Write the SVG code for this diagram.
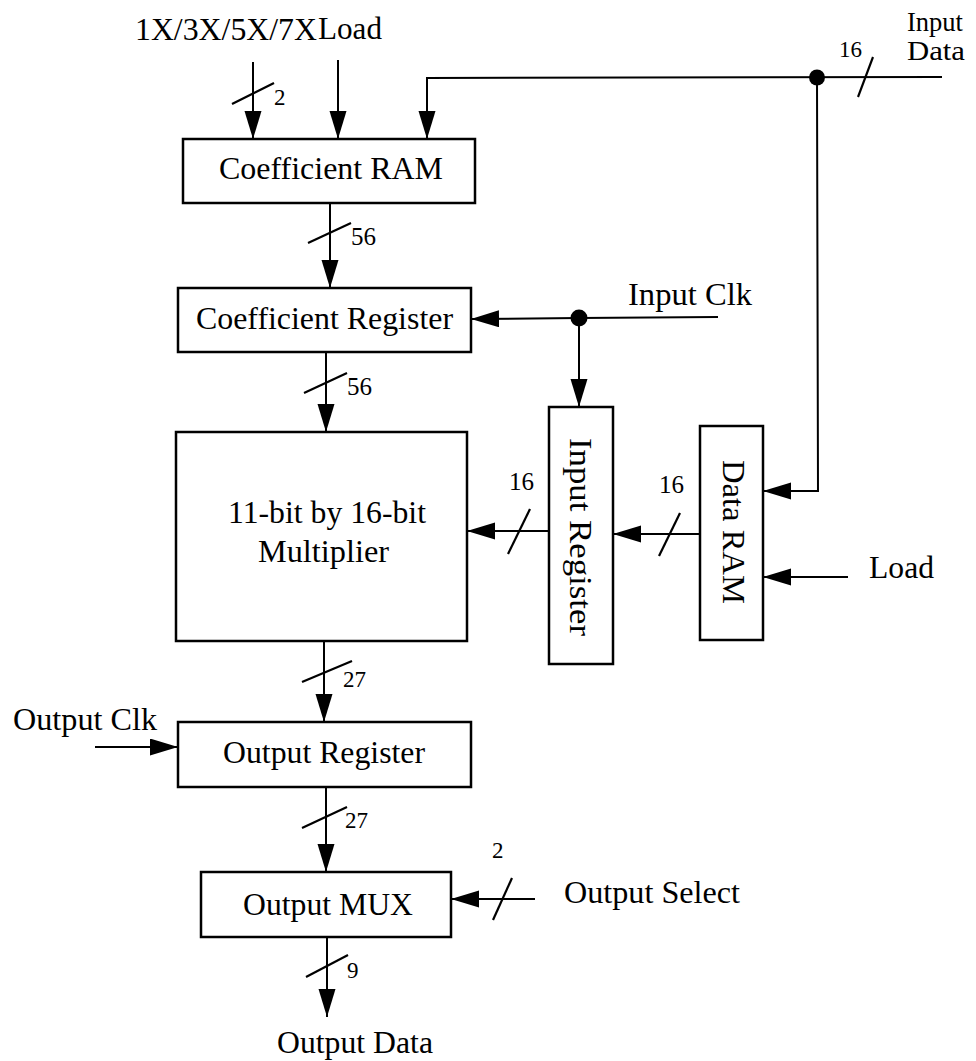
<svg xmlns="http://www.w3.org/2000/svg" width="976" height="1061" viewBox="0 0 976 1061">
<defs>
<style>
.box{fill:#fff;stroke:#000;stroke-width:2.5}
.w{stroke:#000;stroke-width:2;fill:none}
.tk{stroke:#000;stroke-width:2.2;fill:none}
.t{font-family:"Liberation Serif","Times New Roman",serif;font-size:31px;fill:#000}
.s{font-family:"Liberation Serif","Times New Roman",serif;font-size:27px;fill:#000}
.n{font-family:"Liberation Serif","Times New Roman",serif;font-size:23px;fill:#000}
.nl{font-family:"Liberation Serif","Times New Roman",serif;font-size:25px;fill:#000}
.dot{fill:#000}
</style>
<marker id="ah" markerUnits="userSpaceOnUse" markerWidth="30" markerHeight="18" refX="28" refY="8.5" orient="auto"><path d="M0,0 L28,8.5 L0,17 z" fill="#000"/></marker>
</defs>
<rect width="976" height="1061" fill="#fff"/>

<g id="connectors">
<line class="w" x1="253" y1="62" x2="253" y2="139" marker-end="url(#ah)"/>
<line class="w" x1="338" y1="60" x2="338" y2="139" marker-end="url(#ah)"/>
<polyline class="w" points="942,77 427,78 427,139" marker-end="url(#ah)"/>
<circle class="dot" cx="817" cy="77.5" r="8"/>
<polyline class="w" points="817,78 818,491 763,491" marker-end="url(#ah)"/>
<line class="w" x1="330" y1="203" x2="330" y2="288" marker-end="url(#ah)"/>
<line class="w" x1="326" y1="352" x2="326" y2="432" marker-end="url(#ah)"/>
<polyline class="w" points="718,317 579,318 471,319" marker-end="url(#ah)"/>
<circle class="dot" cx="579" cy="318" r="8.5"/>
<line class="w" x1="579" y1="318" x2="579" y2="407" marker-end="url(#ah)"/>
<line class="w" x1="700" y1="534" x2="613" y2="534" marker-end="url(#ah)"/>
<line class="w" x1="549" y1="531" x2="467" y2="531" marker-end="url(#ah)"/>
<line class="w" x1="848" y1="577" x2="763" y2="577" marker-end="url(#ah)"/>
<line class="w" x1="324" y1="641" x2="324" y2="722" marker-end="url(#ah)"/>
<line class="w" x1="95" y1="747" x2="178" y2="747" marker-end="url(#ah)"/>
<line class="w" x1="326" y1="787" x2="326" y2="872" marker-end="url(#ah)"/>
<line class="w" x1="535" y1="899" x2="451" y2="899" marker-end="url(#ah)"/>
<line class="w" x1="327" y1="937" x2="327" y2="1017" marker-end="url(#ah)"/>
<line class="tk" x1="232" y1="104" x2="274" y2="83"/>
<line class="tk" x1="308" y1="243" x2="351" y2="223"/>
<line class="tk" x1="304" y1="393" x2="347" y2="373"/>
<line class="tk" x1="508" y1="554" x2="530" y2="509"/>
<line class="tk" x1="659" y1="556" x2="680" y2="513"/>
<line class="tk" x1="858" y1="97" x2="873" y2="57"/>
<line class="tk" x1="302" y1="682" x2="352" y2="661"/>
<line class="tk" x1="302" y1="828" x2="347" y2="807"/>
<line class="tk" x1="493" y1="920" x2="512" y2="878"/>
<line class="tk" x1="306" y1="977" x2="348" y2="955"/>
<text class="n" x="274" y="105">2</text>
<text class="nl" x="351" y="245">56</text>
<text class="nl" x="347" y="395">56</text>
<text class="nl" x="509" y="490">16</text>
<text class="nl" x="659" y="493">16</text>
<text class="n" x="839" y="57">16</text>
<text class="n" x="343" y="687">27</text>
<text class="n" x="345" y="828">27</text>
<text class="n" x="492" y="858">2</text>
<text class="n" x="347" y="978">9</text>
</g>

<g id="coef-ram"><rect class="box" x="183" y="139" width="292" height="64"/><text class="t" x="219" y="179" textLength="224" lengthAdjust="spacingAndGlyphs">Coefficient RAM</text></g>
<g id="coef-reg"><rect class="box" x="178" y="288" width="293" height="64"/><text class="t" x="196" y="329" textLength="257" lengthAdjust="spacingAndGlyphs">Coefficient Register</text></g>
<g id="multiplier"><rect class="box" x="176" y="432" width="291" height="209"/><text class="t" x="228" y="523" textLength="198" lengthAdjust="spacingAndGlyphs">11-bit by 16-bit</text><text class="t" x="258" y="562" textLength="131" lengthAdjust="spacingAndGlyphs">Multiplier</text></g>
<g id="input-reg"><rect class="box" x="549" y="407" width="64" height="257"/><text class="t" transform="translate(570,438) rotate(90)" x="0" y="0" textLength="198" lengthAdjust="spacingAndGlyphs">Input Register</text></g>
<g id="data-ram"><rect class="box" x="700" y="426" width="63" height="214"/><text class="t" transform="translate(723,460) rotate(90)" x="0" y="0" textLength="144" lengthAdjust="spacingAndGlyphs">Data RAM</text></g>
<g id="output-reg"><rect class="box" x="178" y="722" width="293" height="65"/><text class="t" x="223" y="763" textLength="202" lengthAdjust="spacingAndGlyphs">Output Register</text></g>
<g id="output-mux"><rect class="box" x="201" y="872" width="250" height="65"/><text class="t" x="243" y="915" textLength="170" lengthAdjust="spacingAndGlyphs">Output MUX</text></g>

<g id="labels">
<text id="lbl-coef-sel" class="t" x="135" y="40" textLength="182" lengthAdjust="spacingAndGlyphs">1X/3X/5X/7X</text>
<text id="lbl-load-top" class="t" x="318" y="39" textLength="64" lengthAdjust="spacingAndGlyphs">Load</text>
<text id="lbl-input-data-1" class="s" x="907" y="31" textLength="56" lengthAdjust="spacingAndGlyphs">Input</text>
<text id="lbl-input-data-2" class="s" x="907" y="60" textLength="58" lengthAdjust="spacingAndGlyphs">Data</text>
<text id="lbl-input-clk" class="t" x="628" y="305" textLength="124" lengthAdjust="spacingAndGlyphs">Input Clk</text>
<text id="lbl-load" class="t" x="869" y="578" textLength="65" lengthAdjust="spacingAndGlyphs">Load</text>
<text id="lbl-output-clk" class="t" x="13" y="730" textLength="144" lengthAdjust="spacingAndGlyphs">Output Clk</text>
<text id="lbl-output-select" class="t" x="564" y="903" textLength="176" lengthAdjust="spacingAndGlyphs">Output Select</text>
<text id="lbl-output-data" class="t" x="277" y="1053" textLength="156" lengthAdjust="spacingAndGlyphs">Output Data</text>
</g>
</svg>
